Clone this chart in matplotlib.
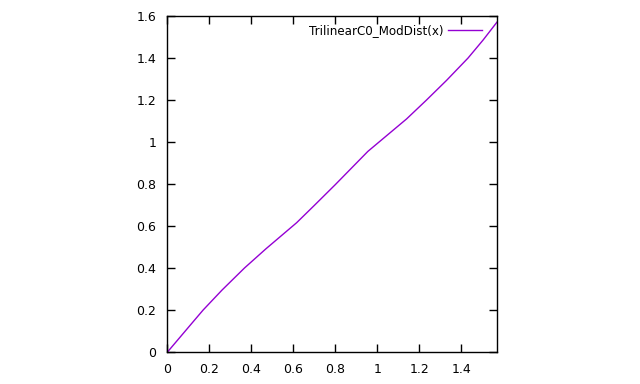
import numpy as np
import matplotlib
matplotlib.use('Agg')
import matplotlib.pyplot as plt

# values (kinks at atan(1/sqrt2) and atan(sqrt2))
xs = [0.0, 0.129, 0.17, 0.26, 0.367, 0.47, 0.6155,
      0.70, 0.80, 0.9553,
      1.14, 1.235, 1.33, 1.433, 1.505, 1.5708]
ys = [0.0, 0.152, 0.20, 0.295, 0.40, 0.492, 0.6155,
      0.698, 0.797, 0.9553,
      1.11, 1.20, 1.293, 1.40, 1.486, 1.5708]
xticks = [0, 0.2, 0.4, 0.6, 0.8, 1, 1.2, 1.4]
yticks = [0, 0.2, 0.4, 0.6, 0.8, 1, 1.2, 1.4, 1.6]
label = 'TrilinearC0_ModDist(x)'

fig = plt.figure(figsize=(6.4, 3.84), dpi=100)
ax = fig.add_axes([0.2617, 0.0833, 0.5148, 0.875])

ax.plot(xs, ys, color='#9400d3', lw=1.0, label=label)

ax.set_xlim(0, np.pi / 2)
ax.set_ylim(0, 1.6)
ax.set_xticks(xticks)
ax.set_xticklabels(['0', '0.2', '0.4', '0.6', '0.8', '1', '1.2', '1.4'])
ax.set_yticks(yticks)
ax.set_yticklabels(['0', '0.2', '0.4', '0.6', '0.8', '1', '1.2', '1.4', '1.6'])
ax.tick_params(direction='in', length=6, width=1, top=True, right=True,
               labelsize=9, pad=8, colors='black')
for s in ax.spines.values():
    s.set_linewidth(1)

leg = ax.legend(loc='upper right', bbox_to_anchor=(0.98, 1.0), frameon=False,
                fontsize=8.6, markerfirst=False, handlelength=2.85,
                borderaxespad=0.3, handletextpad=0.4)

fig.savefig('out.png', dpi=100)
